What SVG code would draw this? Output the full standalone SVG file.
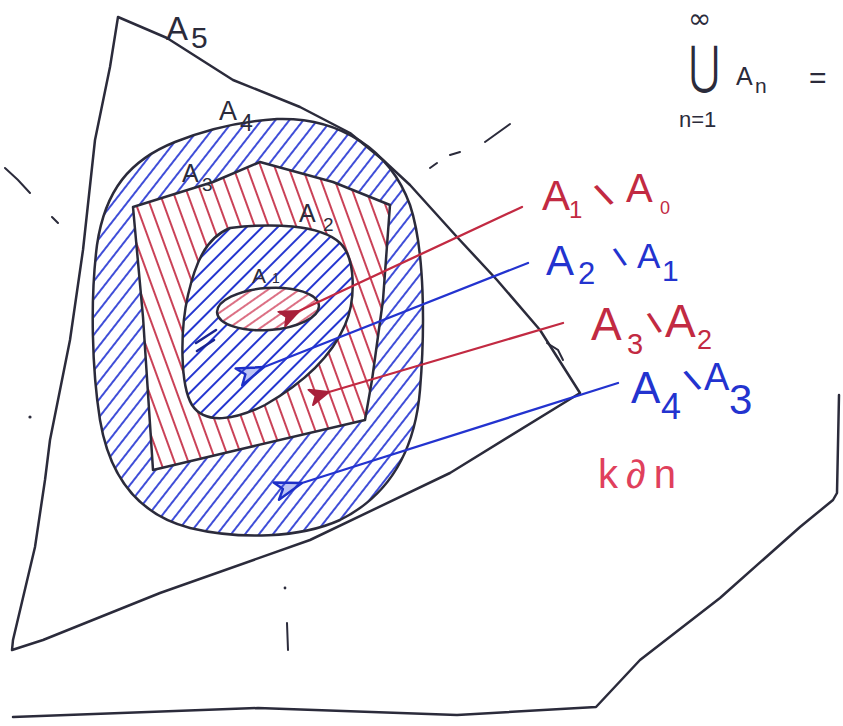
<svg xmlns="http://www.w3.org/2000/svg" width="843" height="726" viewBox="0 0 843 726">
<style>
.ol{fill:none;stroke:#2b2b3b;stroke-width:2.5;stroke-linejoin:round;stroke-linecap:round}
.thin{fill:none;stroke:#2b2b3b;stroke-width:2;stroke-linecap:round}
.lab{font-family:"Liberation Sans","DejaVu Sans",sans-serif;fill:#2b2b3b}
.red{fill:#c22a42}
.blue{fill:#2333cf}
.pink{fill:#e0405c}
.sym{font-family:"DejaVu Sans","Liberation Sans",sans-serif;fill:#2b2b3b}
.ar{fill:none;stroke-width:2.3;stroke-linecap:round}
.bs{text-anchor:middle;font-weight:bold}
</style>
<defs>
<pattern id="hb" width="11" height="11" patternUnits="userSpaceOnUse" patternTransform="rotate(38)"><line x1="5" y1="0" x2="5" y2="11" stroke="#2a3ad4" stroke-width="1.8"/></pattern>
<pattern id="hb2" width="11" height="11" patternUnits="userSpaceOnUse" patternTransform="rotate(45)"><line x1="5" y1="0" x2="5" y2="11" stroke="#2436d0" stroke-width="2"/></pattern>
<pattern id="hr" width="13" height="13" patternUnits="userSpaceOnUse" patternTransform="rotate(-20)"><line x1="6" y1="0" x2="6" y2="13" stroke="#c42c44" stroke-width="1.8"/></pattern>
<pattern id="hr2" width="9" height="9" patternUnits="userSpaceOnUse" patternTransform="rotate(55)"><line x1="4" y1="0" x2="4" y2="9" stroke="#d0405a" stroke-width="1.5"/></pattern>
<marker id="mr" markerWidth="24" markerHeight="18" refX="1" refY="9" orient="auto" markerUnits="userSpaceOnUse" viewBox="0 0 24 18"><path d="M1,9 L20,1 L15,9 L20,17 Z" fill="#a8203a" stroke="#a8203a" stroke-width="2" stroke-linejoin="round"/></marker>
<marker id="mb" markerWidth="32" markerHeight="22" refX="1" refY="11" orient="auto" markerUnits="userSpaceOnUse" viewBox="0 0 32 22"><path d="M1,11 L28,2 L21,11 L28,20 Z" fill="#4052e0" fill-opacity="0.35" stroke="#1d2fc8" stroke-width="2.4" stroke-linejoin="round"/></marker>
</defs>
<rect width="843" height="726" fill="#ffffff"/>

<g id="hatching">
<path fill="url(#hb)" fill-rule="evenodd" d="M277,119 C340,117 390,150 410,205 C425,250 425,330 420,390 C415,450 390,495 340,520 C300,538 240,540 190,528 C140,515 110,480 100,420 C92,370 90,300 97,245 C105,190 130,160 175,142 C210,128 245,121 277,119 Z M133,207 L213,182 L260,162 L333,182 L390,205 L383,300 L372,380 L365,420 L250,447 L153,470 L143,317 Z"/>
<path fill="url(#hr)" fill-rule="evenodd" d="M133,207 L213,182 L260,162 L333,182 L390,205 L383,300 L372,380 L365,420 L250,447 L153,470 L143,317 Z M230,228 C270,223 320,224 340,243 C356,258 356,300 345,325 C330,360 300,385 265,405 C235,420 205,425 192,405 C180,385 180,330 188,295 C195,265 205,238 230,228 Z"/>
<path fill="url(#hb2)" fill-rule="evenodd" d="M230,228 C270,223 320,224 340,243 C356,258 356,300 345,325 C330,360 300,385 265,405 C235,420 205,425 192,405 C180,385 180,330 188,295 C195,265 205,238 230,228 Z M217.1,312.6 A51,21 -4 1 0 318.9,305.4 A51,21 -4 1 0 217.1,312.6 Z"/>
<path fill="url(#hr2)" d="M217.1,312.6 A51,21 -4 1 0 318.9,305.4 A51,21 -4 1 0 217.1,312.6 Z"/>
<path fill="none" stroke="#1a2490" stroke-width="2.6" stroke-linecap="round" d="M196,343 L216,330 M197,351 L214,340"/>
</g>

<g id="A5">
<path class="ol" d="M118,17 L167,38 L233,80 L300,107 L350,133 L383,160 L410,185 L457,237 L497,280 L540,330 L580,393 L450,473 L310,540 L160,593 L43,640 L12,650 L13,640 L35,547 L45,480 L50,440 L70,340 L83,250 L95,140 L110,67 Z"/>
<path class="thin" d="M547,343 L558,350 L563,360"/>
<text class="lab" x="166" y="40" font-size="33">A</text><text class="lab" x="191" y="48" font-size="30">5</text>
</g>

<g id="A4">
<path class="ol" d="M277,119 C340,117 390,150 410,205 C425,250 425,330 420,390 C415,450 390,495 340,520 C300,538 240,540 190,528 C140,515 110,480 100,420 C92,370 90,300 97,245 C105,190 130,160 175,142 C210,128 245,121 277,119 Z"/>
<text class="lab" x="219" y="120" font-size="27">A</text><text class="lab" x="240" y="131" font-size="23">4</text>
</g>

<g id="A3">
<path class="ol" d="M133,207 L213,182 L260,162 L333,182 L390,205 L383,300 L372,380 L365,420 L250,447 L153,470 L143,317 Z"/>
<text class="lab" x="182" y="182" font-size="25">A</text><text class="lab" x="202" y="191" font-size="19">3</text>
</g>

<g id="A2">
<path class="ol" d="M230,228 C270,223 320,224 340,243 C356,258 356,300 345,325 C330,360 300,385 265,405 C235,420 205,425 192,405 C180,385 180,330 188,295 C195,265 205,238 230,228 Z"/>
<text class="lab" x="299" y="222" font-size="25">A</text><text class="lab" x="323" y="231" font-size="19">2</text>
</g>

<g id="A1">
<path class="ol" d="M217.1,312.6 A51,21 -4 1 0 318.9,305.4 A51,21 -4 1 0 217.1,312.6 Z"/>
<text class="lab" x="252" y="283" font-size="21">A</text><text class="lab" x="272" y="283" font-size="14">1</text>
</g>

<g id="connectors">
<path class="ar" stroke="#c22a42" d="M522,207 L299,311" marker-end="url(#mr)"/>
<path class="ar" stroke="#2333cf" d="M528,263 L264,367" marker-end="url(#mb)"/>
<path class="ar" stroke="#c22a42" d="M563,323 L329,392" marker-end="url(#mr)"/>
<path class="ar" stroke="#2333cf" d="M618,383 L302,483" marker-end="url(#mb)"/>
</g>

<g id="label-A1-A0">
<text class="lab red" x="542" y="210" font-size="42">A</text>
<text class="lab red" x="569" y="218" font-size="24">1</text>
<text class="lab red bs" x="604" y="206" font-size="32" transform="rotate(-32 604 195)">\</text>
<text class="lab red" x="626" y="202" font-size="40">A</text>
<text class="lab red" x="660" y="214" font-size="18">0</text>
</g>
<g id="label-A2-A1">
<text class="lab blue" x="546" y="275" font-size="42">A</text>
<text class="lab blue" x="578" y="284" font-size="31">2</text>
<text class="lab blue bs" x="620" y="266" font-size="26" transform="rotate(-24 620 257)">\</text>
<text class="lab blue" x="637" y="268" font-size="35">A</text>
<text class="lab blue" x="662" y="281" font-size="30">1</text>
</g>
<g id="label-A3-A2">
<text class="lab red" x="591" y="340" font-size="46">A</text>
<text class="lab red" x="627" y="354" font-size="29">3</text>
<text class="lab red bs" x="654" y="333" font-size="29" transform="rotate(-22 654 322)">\</text>
<text class="lab red" x="665" y="337" font-size="46">A</text>
<text class="lab red" x="697" y="349" font-size="27">2</text>
</g>
<g id="label-A4-A3">
<text class="lab blue" x="631" y="403" font-size="44">A</text>
<text class="lab blue" x="661" y="419" font-size="36">4</text>
<text class="lab blue bs" x="692" y="391" font-size="30" transform="rotate(-30 692 380)">\</text>
<text class="lab blue" x="704" y="390" font-size="38">A</text>
<text class="lab blue" x="729" y="414" font-size="42">3</text>
</g>
<text class="lab pink" x="598" y="488" font-size="40" letter-spacing="8">k∂n</text>

<g id="union">
<text class="sym" x="688" y="28" font-size="28">∞</text>
<text class="sym" x="0" y="83" font-size="52" transform="translate(689,0) scale(0.72,1)">⋃</text>
<text class="lab" x="736" y="85" font-size="25">A</text>
<text class="lab" x="755" y="93" font-size="21">n</text>
<text class="lab" x="809" y="88" font-size="30">=</text>
<text class="lab" x="679" y="127" font-size="22">n=1</text>
</g>

<g id="marks">
<path class="thin" stroke="#2b2b4b" d="M5,168 L18,180 L30,193 M52,217 L58,223 M430,168 L437,163 M450,155 L460,152 M485,142 L510,124"/>
<circle cx="30" cy="417" r="1.6" fill="#2b2b3b"/>
<circle cx="285" cy="588" r="1.4" fill="#2b2b3b"/>
<path class="thin" d="M287,623 L288,650"/>
<path class="ol" d="M13,717 L258,708 L457,715 L596,707 L640,660 L720,598 L800,527 L833,500 L837,493 L839,395"/>
</g>
</svg>
